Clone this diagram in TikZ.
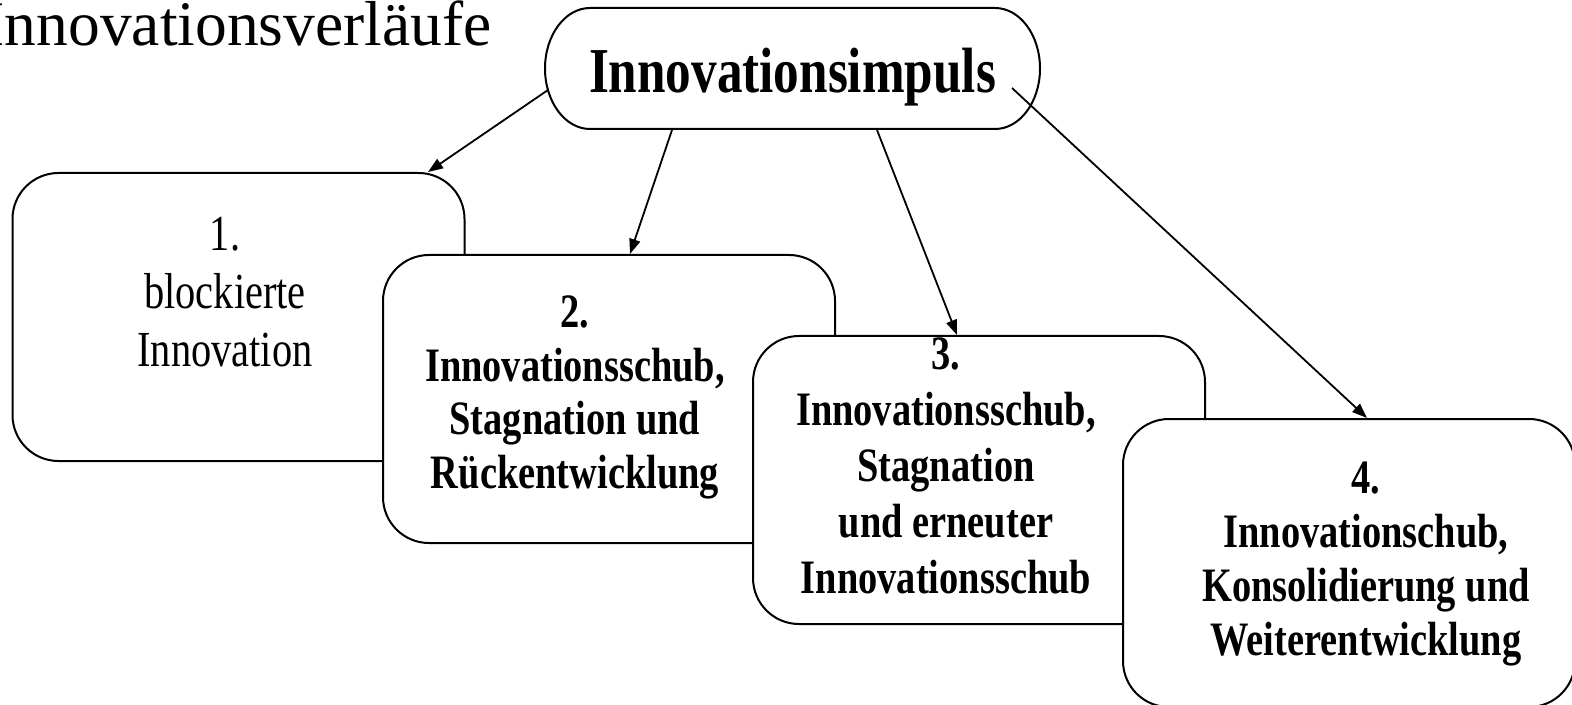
\documentclass[tikz,border=0pt]{standalone}
\usepackage{fontspec}
\setmainfont{Liberation Serif}
\newfontfamily\condfont[FakeStretch=0.8]{Liberation Serif}
\usetikzlibrary{arrows.meta}
\begin{document}
\begin{tikzpicture}[x=0.5pt,y=-0.5pt,
  stagebox/.style={draw,line width=1pt,fill=white,rounded corners=23pt,minimum width=226pt,minimum height=144pt,inner sep=0pt},
  stagetext/.style={align=center,anchor=base,inner sep=0pt},
  arr/.style={line width=0.9pt,-{Triangle[length=7.5pt,width=5.5pt]}}]
\useasboundingbox (0,0) rectangle (1572,705);

\node[anchor=base east,inner sep=0pt,font=\fontsize{31.75pt}{36pt}\selectfont] (title) at (492,46) {Innovationsverläufe};

% impulse shape
\draw[line width=1pt] (590,8) -- (995,8) arc[start angle=270,end angle=450,x radius=45,y radius=60.5]
  -- (590,129) arc[start angle=90,end angle=270,x radius=45,y radius=60.5] -- cycle;
\node[anchor=base,inner sep=0pt,font=\condfont\bfseries\fontsize{32pt}{36pt}\selectfont] (imp) at (792.5,93) {Innovationsimpuls};

\node[stagebox] (b1) at (238.5,317) {};
\node[stagetext,font=\condfont\fontsize{25.25pt}{29pt}\selectfont] (t1) at (225,366) {1.\\blockierte\\Innovation};

\node[stagebox] (b2) at (609,399) {};
\node[stagetext,font=\condfont\bfseries\fontsize{24pt}{26.7pt}\selectfont] (t2) at (575,488) {2.\\Innovationsschub,\\Stagnation und\\Rückentwicklung};

\node[stagebox] (b3) at (979,480) {};
\node[stagetext,font=\condfont\bfseries\fontsize{24pt}{27.9pt}\selectfont] (t3) at (946,593) {3.\\Innovationsschub,\\Stagnation\\und erneuter\\Innovationsschub};

\node[stagebox] (b4) at (1349,563) {};
\node[stagetext,font=\condfont\bfseries\fontsize{24pt}{27pt}\selectfont] (t4) at (1366,655) {4.\\Innovationschub,\\Konsolidierung und\\Weiterentwicklung};

\coordinate (s1) at (548,90);
\coordinate (s2) at (672,130);
\coordinate (s3) at (877,130);
\coordinate (s4) at (1012,88);
\coordinate (e1) at (428,172);
\coordinate (e2) at (630,254);
\coordinate (e3) at (957,335);
\coordinate (e4) at (1367,418);
\draw[arr] (s1) -- (e1);
\draw[arr] (s2) -- (e2);
\draw[arr] (s3) -- (e3);
\draw[arr] (s4) -- (e4);
\end{tikzpicture}
\end{document}
